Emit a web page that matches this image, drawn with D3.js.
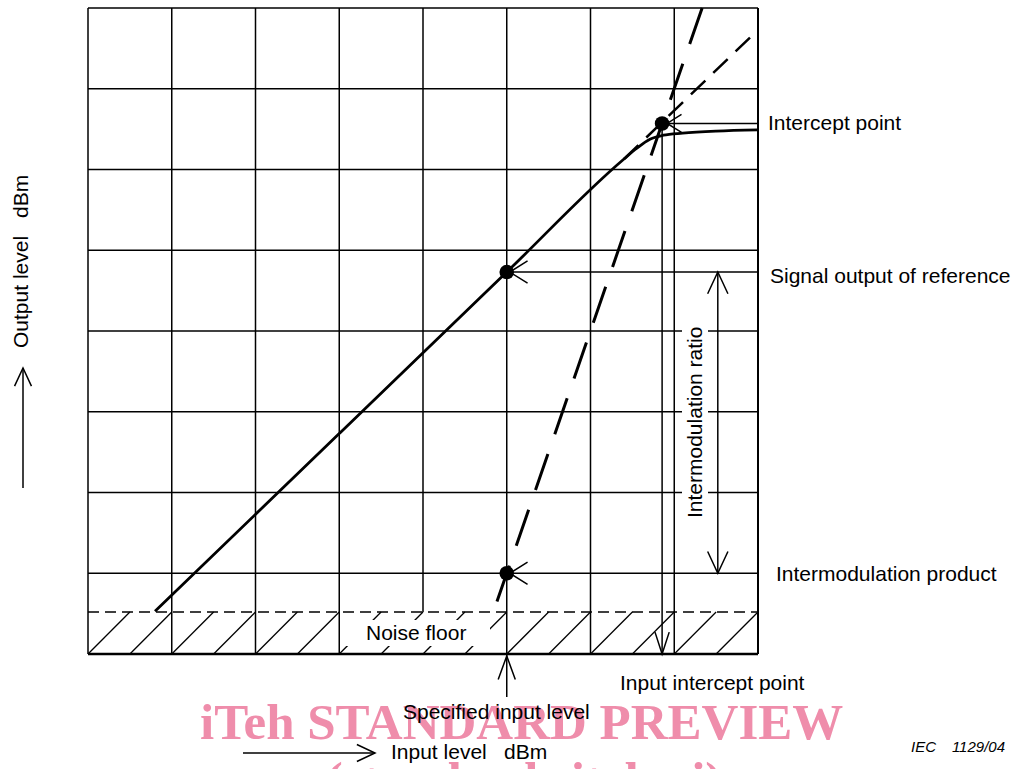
<!DOCTYPE html>
<html lang="en">
<head>
<meta charset="utf-8">
<title>Intercept point</title>
<script src="https://d3js.org/d3.v7.min.js" charset="utf-8"></script>
<style>
  body { margin: 0; background: #fff; }
  text {
    font-family: "Liberation Sans", Arial, sans-serif;
    font-size: 21px;
    fill: #000;
  }
</style>
</head>
<body>
<script>
// grid divisions (dBm)
var inputGrid = [-80, -70, -60, -50, -40, -30, -20, -10, 0];
var outputGrid = [-60, -50, -40, -30, -20, -10, 0, 10, 20];

// output signal of the device (input dBm -> output dBm)
var signalIn  = [-72, -50, -30, -16, -14.5, -12.9, -11.3, -9, -5, 0];
var signalOut = [-54.7, -32.7, -12.7, 1.3, 2.6, 3.75, 4.25, 4.5, 4.75, 4.9];

// linear extension of the signal line
var fundIn  = [-16, -0.7];
var fundOut = [1.3, 16.6];

// third order intermodulation product
var imIn  = [-31.6, -30, -11.45, -6.67];
var imOut = [-54.8, -50, 5.7, 20];

// marked points
var refPoint = [-30, -12.7];
var imPoint = [-30, -50];
var interceptPoint = [-11.45, 5.7];
var noiseFloor = -54.8;
var ratioAt = -4.8;

// hatch start positions under the noise floor
var hatchStart = [-80, -75, -70, -65, -60, -55, -50, -45, -40, -35, -30, -25, -20, -15, -10, -5];

var w = 1020, h = 769;

var x = d3.scaleLinear().domain([-80, 0]).range([88, 758]);
var y = d3.scaleLinear().domain([-60, 20]).range([654, 8]);

var svg = d3.select("body").append("svg")
    .attr("width", w)
    .attr("height", h);

// watermark goes underneath everything
var wmStyle = function(t) {
  t.style("font-family", "'Liberation Serif', 'Times New Roman', serif")
   .style("font-weight", "bold")
   .style("font-size", "51px")
   .style("fill", "#ef8dab");
};
svg.append("text").attr("x", 200).attr("y", 739)
    .call(wmStyle)
    .text("iTeh STANDARD PREVIEW");
svg.append("text").attr("x", 524).attr("y", 797)
    .attr("text-anchor", "middle")
    .call(wmStyle)
    .text("(standards.iteh.ai)");

// grid
svg.selectAll(".vgrid")
    .data(inputGrid)
    .enter().append("line")
    .attr("class", "vgrid")
    .attr("x1", function(d) { return x(d); })
    .attr("x2", function(d) { return x(d); })
    .attr("y1", y(20))
    .attr("y2", function(d) { return d == -40 ? y(noiseFloor) : y(-60); })
    .attr("stroke", "#000")
    .attr("stroke-width", function(d) { return d == 0 ? 2 : 1.5; });

svg.selectAll(".hgrid")
    .data(outputGrid)
    .enter().append("line")
    .attr("class", "hgrid")
    .attr("x1", x(-80))
    .attr("x2", x(0))
    .attr("y1", function(d) { return y(d); })
    .attr("y2", function(d) { return y(d); })
    .attr("stroke", "#000")
    .attr("stroke-width", function(d) { return d == -60 ? 2.5 : 1.5; });

// hatch below the noise floor
svg.selectAll(".hatch")
    .data(hatchStart)
    .enter().append("line")
    .attr("class", "hatch")
    .attr("x1", function(d) { return x(d); })
    .attr("y1", y(-60))
    .attr("x2", function(d) { return x(d + 5); })
    .attr("y2", y(noiseFloor))
    .attr("stroke", "#000")
    .attr("stroke-width", 1.3);

// noise floor
svg.append("line")
    .attr("x1", x(-80)).attr("x2", x(0))
    .attr("y1", y(noiseFloor)).attr("y2", y(noiseFloor))
    .attr("stroke", "#000")
    .attr("stroke-width", 1.5)
    .attr("stroke-dasharray", "11,6");

// white boxes behind labels inside the grid
svg.append("rect").attr("x", 346).attr("y", 620).attr("width", 144).attr("height", 26).attr("fill", "#fff");
svg.append("rect").attr("x", 682).attr("y", 322).attr("width", 26).attr("height", 201).attr("fill", "#fff");

var line = d3.line()
    .x(function(d) { return x(d[0]); })
    .y(function(d) { return y(d[1]); });

// signal output
svg.append("path")
    .datum(d3.zip(signalIn, signalOut))
    .attr("d", line.curve(d3.curveMonotoneX))
    .attr("fill", "none")
    .attr("stroke", "#000")
    .attr("stroke-width", 2.8);

line.curve(d3.curveLinear);

// extension of the signal line
svg.append("path")
    .datum(d3.zip(fundIn, fundOut))
    .attr("d", line)
    .attr("fill", "none")
    .attr("stroke", "#000")
    .attr("stroke-width", 2.5)
    .attr("stroke-dasharray", "20,11");

// intermodulation product line (drawn from the top down)
svg.append("path")
    .datum(d3.zip(imIn, imOut).reverse())
    .attr("d", line)
    .attr("fill", "none")
    .attr("stroke", "#000")
    .attr("stroke-width", 3)
    .attr("stroke-dasharray", "38,21");

// leader lines
svg.append("line")
    .attr("x1", x(interceptPoint[0])).attr("x2", x(0))
    .attr("y1", y(interceptPoint[1])).attr("y2", y(interceptPoint[1]))
    .attr("stroke", "#000").attr("stroke-width", 1.5);
svg.append("line")
    .attr("x1", x(refPoint[0])).attr("x2", x(0))
    .attr("y1", y(refPoint[1])).attr("y2", y(refPoint[1]))
    .attr("stroke", "#000").attr("stroke-width", 1.5);

// input intercept point (vertical)
svg.append("line")
    .attr("x1", x(interceptPoint[0])).attr("x2", x(interceptPoint[0]))
    .attr("y1", y(interceptPoint[1])).attr("y2", y(-60))
    .attr("stroke", "#000").attr("stroke-width", 1.5);

// intermodulation ratio
svg.append("line")
    .attr("x1", x(ratioAt)).attr("x2", x(ratioAt))
    .attr("y1", y(refPoint[1])).attr("y2", y(imPoint[1]))
    .attr("stroke", "#000").attr("stroke-width", 1.5);

// specified input level
svg.append("line")
    .attr("x1", x(refPoint[0])).attr("x2", x(refPoint[0]))
    .attr("y1", y(-60)).attr("y2", y(-60) + 43)
    .attr("stroke", "#000").attr("stroke-width", 1.5);

// open arrowheads: tip position and direction angle (degrees)
function arrowHead(tx, ty, angle, len, spread) {
  var a = angle * Math.PI / 180;
  var s = spread * Math.PI / 180;
  var p1 = [tx - len * Math.cos(a - s), ty - len * Math.sin(a - s)];
  var p2 = [tx - len * Math.cos(a + s), ty - len * Math.sin(a + s)];
  svg.append("path")
      .attr("d", "M" + p1 + "L" + [tx, ty] + "L" + p2)
      .attr("fill", "none")
      .attr("stroke", "#000")
      .attr("stroke-width", 1.5);
}

arrowHead(x(refPoint[0]) + 3, y(refPoint[1]), 180, 21, 32);
arrowHead(x(imPoint[0]) + 3, y(imPoint[1]), 180, 21, 32);
arrowHead(x(interceptPoint[0]) + 5, y(interceptPoint[1]), 180, 17, 32);
arrowHead(x(interceptPoint[0]), y(-60), 90, 23, 18);
arrowHead(x(ratioAt), y(refPoint[1]), -90, 24, 25);
arrowHead(x(ratioAt), y(imPoint[1]), 90, 24, 25);
arrowHead(x(refPoint[0]), y(-60) + 2, -90, 25, 20);

// dots
svg.selectAll(".dot")
    .data([refPoint, imPoint, interceptPoint])
    .enter().append("circle")
    .attr("class", "dot")
    .attr("cx", function(d) { return x(d[0]); })
    .attr("cy", function(d) { return y(d[1]); })
    .attr("r", 7.3)
    .attr("fill", "#000");

// labels on the right
svg.append("text").attr("x", 768).attr("y", y(interceptPoint[1]) + 7).text("Intercept point");
svg.append("text").attr("x", 770).attr("y", y(refPoint[1]) + 11).text("Signal output of reference");
svg.append("text").attr("x", 776).attr("y", y(imPoint[1]) + 8).text("Intermodulation product");
svg.append("text").attr("x", 366).attr("y", 640).text("Noise floor");
svg.append("text").attr("x", 620).attr("y", 690).text("Input intercept point");
svg.append("text").attr("x", 403).attr("y", 719).text("Specified input level");

svg.append("text")
    .attr("transform", "translate(702, 518) rotate(-90)")
    .text("Intermodulation ratio");

// axis titles with arrows
svg.append("line").attr("x1", 243).attr("x2", 375).attr("y1", 753).attr("y2", 753)
    .attr("stroke", "#000").attr("stroke-width", 1.5);
arrowHead(375, 753, 0, 20, 25);
svg.append("text").attr("x", 391).attr("y", 759).text("Input level");
svg.append("text").attr("x", 504).attr("y", 759).text("dBm");

svg.append("line").attr("x1", 23).attr("x2", 23).attr("y1", 488).attr("y2", 368)
    .attr("stroke", "#000").attr("stroke-width", 1.5);
arrowHead(23, 368, -90, 20, 25);
svg.append("text")
    .attr("transform", "translate(28, 348) rotate(-90)")
    .text("Output level");
svg.append("text")
    .attr("transform", "translate(28, 218) rotate(-90)")
    .text("dBm");

// figure reference
svg.append("text").attr("x", 911).attr("y", 752)
    .style("font-size", "15px").style("font-style", "italic")
    .text("IEC");
svg.append("text").attr("x", 1005).attr("y", 752)
    .attr("text-anchor", "end")
    .style("font-size", "15px").style("font-style", "italic")
    .text("1129/04");
</script>
</body>
</html>
